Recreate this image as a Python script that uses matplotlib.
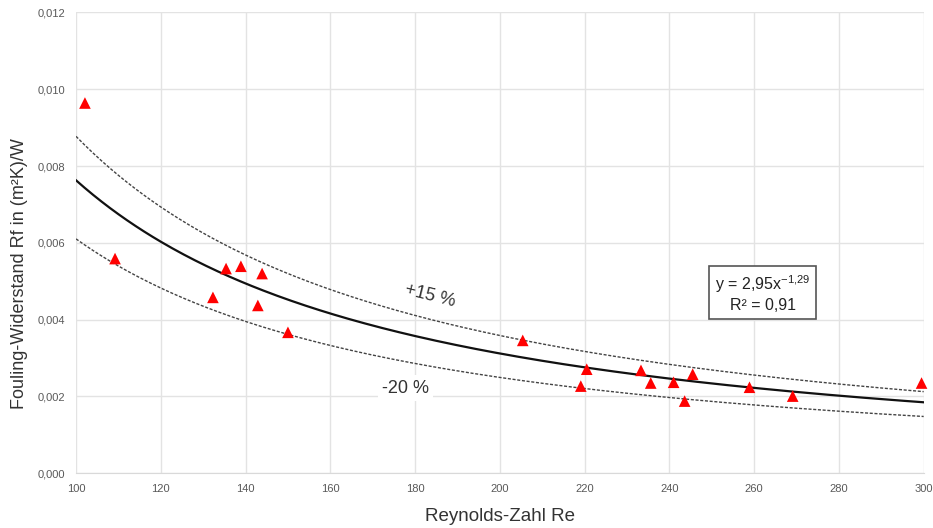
import numpy as np
import matplotlib.pyplot as plt
from matplotlib.ticker import FuncFormatter

plt.rcParams['font.family'] = ['Liberation Sans', 'DejaVu Sans']
plt.rcParams['mathtext.fontset'] = 'custom'
plt.rcParams['mathtext.rm'] = 'Liberation Sans'
plt.rcParams['mathtext.it'] = 'Liberation Sans'
plt.rcParams['axes.unicode_minus'] = False

# Messpunkte
re_werte = [102.1, 109.2, 132.3, 135.4, 138.9, 143.9, 142.9, 150.0, 205.4,
            220.5, 219.1, 233.3, 235.6, 241.0, 243.6, 245.5, 258.9, 269.1, 299.5]
rf_werte = [0.00964, 0.00559, 0.00458, 0.00533, 0.00539, 0.00520, 0.00437,
            0.00367, 0.00346, 0.00271, 0.00227, 0.00268, 0.00235, 0.00237,
            0.00188, 0.00258, 0.00224, 0.00201, 0.00235]

# Potenzfit y = a * x^b und Streuband
a_fit = 2.9
b_fit = -1.29
band_oben = 1.15
band_unten = 0.80

x_ticks = list(range(100, 301, 20))
y_ticks = [0.000, 0.002, 0.004, 0.006, 0.008, 0.010, 0.012]

fig = plt.figure(figsize=(9.33, 5.28), dpi=100)
ax = fig.add_axes([0.0815, 0.1036, 0.9085, 0.873])

x = np.linspace(100, 300, 300)
y = a_fit * x ** b_fit
ax.plot(x, y, color='#111111', lw=1.6, zorder=3)
ax.plot(x, y * band_oben, color='#444444', lw=1.0, ls=(0, (2.2, 1.2)), zorder=3)
ax.plot(x, y * band_unten, color='#444444', lw=1.0, ls=(0, (2.2, 1.2)), zorder=3)

ax.scatter(re_werte, rf_werte, marker='^', s=70, color='#ff0000',
           edgecolors='none', zorder=4, clip_on=False)

ax.set_xlim(100, 300)
ax.set_ylim(0, 0.012)
ax.set_xticks(x_ticks)
ax.set_yticks(y_ticks)
ax.yaxis.set_major_formatter(FuncFormatter(lambda v, p: f'{v:.3f}'.replace('.', ',')))
ax.grid(True, color='#e3e3e3', lw=1.0)
ax.set_axisbelow(True)
for s in ['top', 'right', 'left']:
    ax.spines[s].set_visible(False)
ax.spines['bottom'].set_color('#d9d9d9')
ax.tick_params(length=0, labelsize=8, colors='#595959', pad=8)

ax.set_xlabel('Reynolds-Zahl Re', fontsize=13.5, color='#333333', labelpad=10)
ax.set_ylabel('Fouling-Widerstand Rf in (m²K)/W', fontsize=13, color='#333333')
ax.yaxis.set_label_coords(-0.057, 0.434)

ax.text(183.5, 0.00462, '+15 %', fontsize=13, color='#333333', rotation=-14,
        ha='center', va='center')
ax.text(177.8, 0.00222, '-20 %', fontsize=13, color='#333333', ha='center',
        va='center',
        bbox=dict(facecolor='white', edgecolor='none', pad=3))

ax.text(262, 0.00468, 'y = 2,95x$^{-1{,}29}$\nR² = 0,91', fontsize=11.5,
        color='#222222', ha='center', va='center', linespacing=1.25,
        bbox=dict(facecolor='white', edgecolor='#555555', lw=1.2, pad=4))

fig.savefig('out.png', dpi=100)
